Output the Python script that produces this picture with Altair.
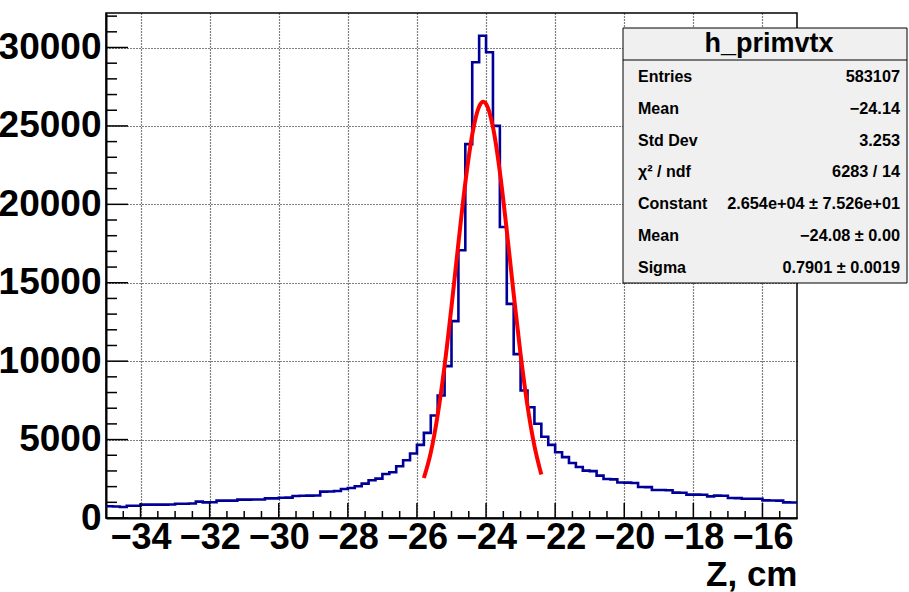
import altair as alt
import pandas as pd

# ---------------- data ----------------
bin_low = -35.0
bin_width = 0.2
counts = [
    750, 735, 700, 785, 785, 850, 850, 850, 855, 860,
    913, 913, 920, 1041, 998, 1000, 1105, 1105, 1110, 1169,
    1169, 1175, 1180, 1254, 1254, 1296, 1300, 1400, 1420, 1424,
    1430, 1680, 1690, 1722, 1850, 1916, 2022, 2192, 2405, 2511,
    2809, 2915, 3299, 3682, 4108, 4660, 5428, 6533, 7810, 9681,
    12554, 17069, 23838, 29055, 30754, 29693, 25006, 18557, 13650, 10450,
    8130, 7060, 6010, 5180, 4660, 4190, 3880, 3510, 3255, 3020,
    2990, 2700, 2490, 2460, 2260, 2255, 2230, 1980, 1970, 1790,
    1788, 1770, 1615, 1610, 1488, 1488, 1480, 1380, 1424, 1420,
    1277, 1270, 1232, 1230, 1225, 1124, 1120, 1110, 996, 990,
]
fit_x = [-25.8, -25.6, -25.4, -25.2, -25.0, -24.8, -24.6, -24.4, -24.2, -24.08,
         -24.0, -23.8, -23.6, -23.4, -23.2, -23.0, -22.8, -22.6, -22.4]
fit_y = [2550, 4170, 6571, 9714, 13471, 17519, 21372, 24449, 26235, 26540,
         26404, 24924, 22065, 18323, 14271, 10425, 7142, 4594, 2768]

x_major = [-34, -32, -30, -28, -26, -24, -22, -20, -18, -16]
x_minor = [-34.5, -33.5, -33, -32.5, -31.5, -31, -30.5, -29.5, -29, -28.5,
           -27.5, -27, -26.5, -25.5, -25, -24.5, -23.5, -23, -22.5, -21.5,
           -21, -20.5, -19.5, -19, -18.5, -17.5, -17, -16.5, -15.5]
y_major = [0, 5000, 10000, 15000, 20000, 25000, 30000]
y_minor = [1000, 2000, 3000, 4000, 6000, 7000, 8000, 9000, 11000, 12000,
           13000, 14000, 16000, 17000, 18000, 19000, 21000, 22000, 23000,
           24000, 26000, 27000, 28000, 29000, 31000, 32000]

stats_title = "h_primvtx"
stat_names = ["Entries", "Mean", "Std Dev", "χ² / ndf", "Constant", "Mean", "Sigma"]
stat_values = ["583107", "\u221224.14", "3.253", "6283 / 14",
               "2.654e+04 ± 7.526e+01", "\u221224.08 ± 0.00", "0.7901 ± 0.0019"]

# ---------------- layout ----------------
W, H = 691, 505
FONT = "Liberation Sans"

hist_x = [round(bin_low + i * bin_width, 3) for i in range(len(counts) + 1)]
hist_y = counts + [counts[-1]]
hist_df = pd.DataFrame({"z": hist_x, "n": hist_y})
fit_df = pd.DataFrame({"z": fit_x, "n": fit_y})

xs = alt.Scale(domain=[-35, -15], nice=False, zero=False)
ys = alt.Scale(domain=[0, 32200], nice=False, zero=False)

x_axis = alt.Axis(
    values=x_major, format="d", labelFont=FONT, labelFontSize=36,
    labelFontWeight="bold", labelColor="black", labelPadding=2,
    labelOverlap=False, labelFlush=False, tickSize=0,
    domainColor="black", domainWidth=2,
    grid=True, gridColor="black", gridDash=[1, 2], gridWidth=1.2, gridOpacity=1,
    title="Z, cm", titleFont=FONT, titleFontSize=35, titleFontWeight="bold",
    titleColor="black", titleAnchor="end", titleAlign="right",
    titleX=W, titleY=67, titleBaseline="alphabetic",
)
y_axis = alt.Axis(
    values=y_major, format="d", labelFont=FONT, labelFontSize=37,
    labelFontWeight="bold", labelColor="black", labelPadding=5,
    labelOverlap=False, labelFlush=False, tickSize=0,
    domainColor="black", domainWidth=2,
    grid=True, gridColor="black", gridDash=[1, 2], gridWidth=1.2, gridOpacity=1,
    title="",
)

X = lambda f: alt.X(f, scale=xs, axis=x_axis)
Y = lambda f: alt.Y(f, scale=ys, axis=y_axis)

hist = alt.Chart(hist_df).mark_line(
    interpolate="step-after", color="#000099", strokeWidth=2.6
).encode(x=X("z:Q"), y=Y("n:Q"))

fit = alt.Chart(fit_df).mark_line(
    interpolate="monotone", color="#ff0000", strokeWidth=4
).encode(x=X("z:Q"), y=Y("n:Q"))

def xticks(vals, length):
    return alt.Chart(pd.DataFrame({"z": vals})).mark_rule(
        color="black", strokeWidth=1.5
    ).encode(x=X("z:Q"), y=alt.value(H), y2=alt.value(H - length))

def yticks(vals, length):
    return alt.Chart(pd.DataFrame({"n": vals})).mark_rule(
        color="black", strokeWidth=1.5
    ).encode(y=Y("n:Q"), x=alt.value(0), x2=alt.value(length))

one = pd.DataFrame({"a": [0]})
bx0, bx1, by0, by1 = 517, 801, 15, 270
box = alt.Chart(one).mark_rect(
    fill="#f0f0f0", stroke="black", strokeWidth=1
).encode(x=alt.value(bx0), x2=alt.value(bx1), y=alt.value(by0), y2=alt.value(by1))
sep = alt.Chart(one).mark_rule(color="black", strokeWidth=1).encode(
    x=alt.value(bx0), x2=alt.value(bx1), y=alt.value(47)
)
title_txt = alt.Chart(one).mark_text(
    text=stats_title, font=FONT, fontSize=27, fontWeight="bold",
    align="center", baseline="alphabetic", color="black"
).encode(x=alt.value(663), y=alt.value(39))

layers = [hist, fit,
          xticks(x_major, 15), xticks(x_minor, 7),
          yticks(y_major, 22), yticks(y_minor, 11),
          box, sep, title_txt]

row_y = [69, 101, 133, 164, 196, 228, 260]
for name, val, yy in zip(stat_names, stat_values, row_y):
    layers.append(alt.Chart(one).mark_text(
        text=name, font=FONT, fontSize=16, fontWeight="bold",
        align="left", baseline="alphabetic", color="black"
    ).encode(x=alt.value(532), y=alt.value(yy)))
    layers.append(alt.Chart(one).mark_text(
        text=val, font=FONT, fontSize=16.3, fontWeight="bold",
        align="right", baseline="alphabetic", color="black"
    ).encode(x=alt.value(794), y=alt.value(yy)))

chart = alt.layer(*layers).properties(
    width=W, height=H,
    autosize=alt.AutoSizeParams(type="none"),
    padding={"left": 106, "top": 13, "right": 112, "bottom": 74},
    background="white",
).configure_view(stroke="black", strokeWidth=1.5)

chart.save("out.html", embed_options={"renderer": "svg", "actions": False})
